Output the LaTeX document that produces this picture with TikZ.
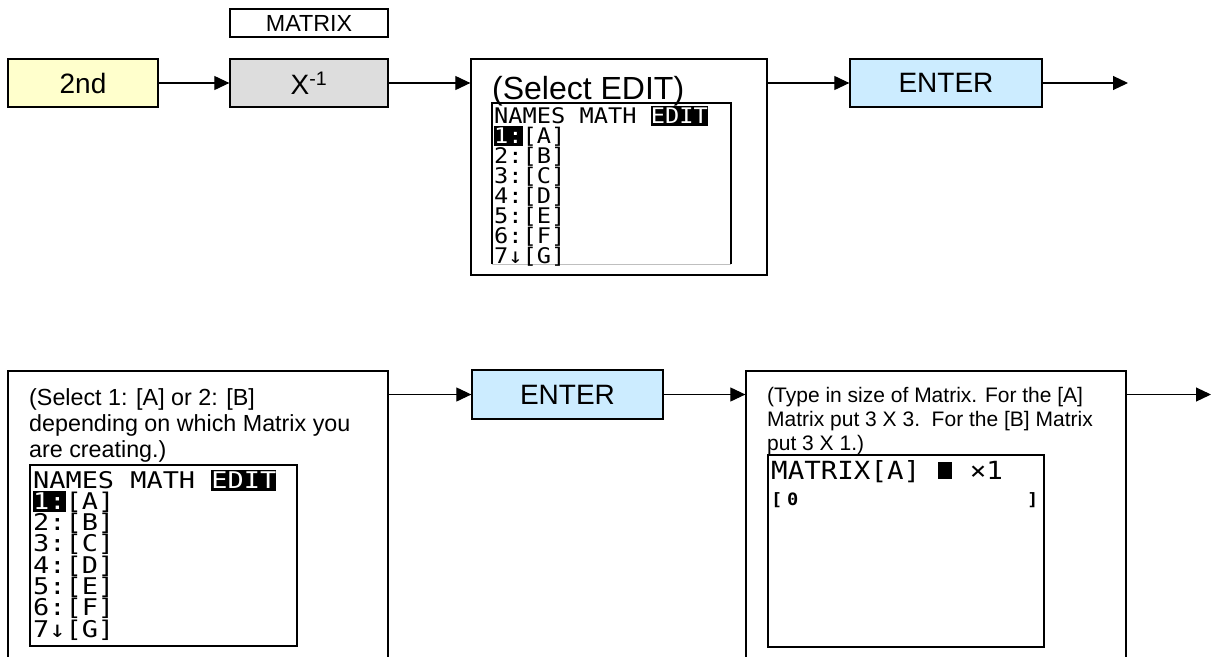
\documentclass[tikz,border=0pt]{standalone}
\usepackage{fontspec}
\setmainfont{Liberation Sans}
\newfontfamily\calcfont[FakeStretch=1.1]{DejaVu Sans Mono}
\newfontfamily\calcfontwide[FakeStretch=1.17]{DejaVu Sans Mono}
\usetikzlibrary{arrows.meta}
\definecolor{keyyellow}{HTML}{FFFFCC}
\definecolor{keygray}{HTML}{DDDDDD}
\definecolor{keyblue}{HTML}{CCECFF}
\newcommand{\invtxt}[1]{\setbox0\hbox{#1}\rlap{\rule[-0.12em]{\wd0}{0.92em}}\textcolor{white}{#1}}
\newcommand{\cellbox}[1]{\setbox0\hbox{M}\makebox[\wd0][c]{#1}}
\begin{document}
\begin{tikzpicture}[x=1pt,y=-1pt,
  box/.style={draw, line width=1.3pt, inner sep=0pt},
  keybox/.style={box, font=\fontsize{28}{32}\selectfont},
  conn/.style={line width=1.1pt, -{Triangle[length=15pt,width=14pt]}},
  scrline/.style={line width=2pt},
  ltext/.style={anchor=base west, inner sep=0pt},
  scrA/.style={ltext, font=\calcfont\fontsize{21.5}{24}\selectfont},
  scrB/.style={ltext, font=\calcfontwide\fontsize{23}{26}\selectfont},
  scrC/.style={ltext, font=\calcfont\fontsize{25}{28}\selectfont},
]
\useasboundingbox (0,0) rectangle (1212,656);

% ---- top row ----
\node[keybox, fill=keyyellow, minimum width=150pt, minimum height=48pt] (n2nd) at (83,83) {2nd};
\node[box, font=\fontsize{23.3}{26}\selectfont, minimum width=158pt, minimum height=28pt] (matlbl) at (309,23) {MATRIX};
\node[keybox, fill=keygray, minimum width=158pt, minimum height=48pt] (xinv) at (309,83) {X\textsuperscript{-1}};
\node[box, minimum width=296pt, minimum height=216pt] (sel) at (619,167) {};
\node[keybox, fill=keyblue, minimum width=192pt, minimum height=48pt] (enter1) at (946,83) {ENTER};
\coordinate (end1) at (1128,83);

\draw[conn] (n2nd) -- (xinv);
\draw[conn] (xinv.east) -- (xinv.east -| sel.west);
\draw[conn] (enter1.west -| sel.east) -- (enter1.west);
\draw[conn] (enter1) -- (end1);

% content of the (Select EDIT) box
\node[ltext, font=\fontsize{32}{36}\selectfont] (seltxt) at (492,99) {(Select EDIT)};
\draw[scrline] (492,264) -- (492,103) -- (731,103) -- (731,264);
\draw[line width=1pt, black!25] (492,264) -- (731,264);
\node[scrA] (a0) at (494,123) {NAMES MATH \invtxt{EDIT}};
\node[scrA] (a1) at (494,143) {\invtxt{1:}[A]};
\node[scrA] (a2) at (494,163) {2:[B]};
\node[scrA] (a3) at (494,183) {3:[C]};
\node[scrA] (a4) at (494,203) {4:[D]};
\node[scrA] (a5) at (494,223) {5:[E]};
\node[scrA] (a6) at (494,243) {6:[F]};
\node[scrA] (a7) at (494,263) {7↓[G]};

% ---- bottom row ----
\node[box, minimum width=380pt, minimum height=349pt] (boxL) at (198,545.5) {};
\node[keybox, fill=keyblue, minimum width=191pt, minimum height=49pt] (enter2) at (567.5,394.5) {ENTER};
\node[box, minimum width=380pt, minimum height=349pt] (boxR) at (936,545.5) {};
\coordinate (end2) at (1211,394.5);

\draw[conn] (boxL.east |- enter2.west) -- (enter2.west);
\draw[conn] (enter2.east) -- (enter2.east -| boxR.west);
\draw[conn] (boxR.east |- enter2.east) -- (end2);

% left box content
\node[ltext, font=\fontsize{23.3}{26}\selectfont] (l1) at (29,405) {(Select 1: [A] or 2: [B]};
\node[ltext, font=\fontsize{23.3}{26}\selectfont] (l2) at (29,431) {depending on which Matrix you};
\node[ltext, font=\fontsize{23.3}{26}\selectfont] (l3) at (29,457) {are creating.)};
\draw[scrline] (30,465) rectangle (297,646);
\node[scrB] (b0) at (33,488) {NAMES MATH \invtxt{EDIT}};
\node[scrB] (b1) at (33,509.3) {\invtxt{1:}[A]};
\node[scrB] (b2) at (33,530.6) {2:[B]};
\node[scrB] (b3) at (33,551.9) {3:[C]};
\node[scrB] (b4) at (33,573.2) {4:[D]};
\node[scrB] (b5) at (33,594.5) {5:[E]};
\node[scrB] (b6) at (33,615.8) {6:[F]};
\node[scrB] (b7) at (33,637) {7↓[G]};

% right box content
\node[ltext, font=\fontsize{21}{24}\selectfont] (r1) at (767,402) {(Type in size of Matrix. For the [A]};
\node[ltext, font=\fontsize{21}{24}\selectfont] (r2) at (767,426) {Matrix put 3 X 3.\ \ For the [B] Matrix};
\node[ltext, font=\fontsize{21}{24}\selectfont] (r3) at (767,450) {put 3 X 1.)};
\draw[scrline] (768,455) rectangle (1044,647);
\node[scrC] (c0) at (771,479) {MATRIX[A] \cellbox{\rule{0.55em}{0.68em}} ×1};
\node[ltext, font=\calcfont\bfseries\fontsize{17}{19}\selectfont] (c1a) at (771,505) {[};
\node[ltext, font=\calcfont\bfseries\fontsize{17}{19}\selectfont] (c1b) at (787,505) {0};
\node[ltext, font=\calcfont\bfseries\fontsize{17}{19}\selectfont] (c1c) at (1027,505) {]};
\end{tikzpicture}
\end{document}
